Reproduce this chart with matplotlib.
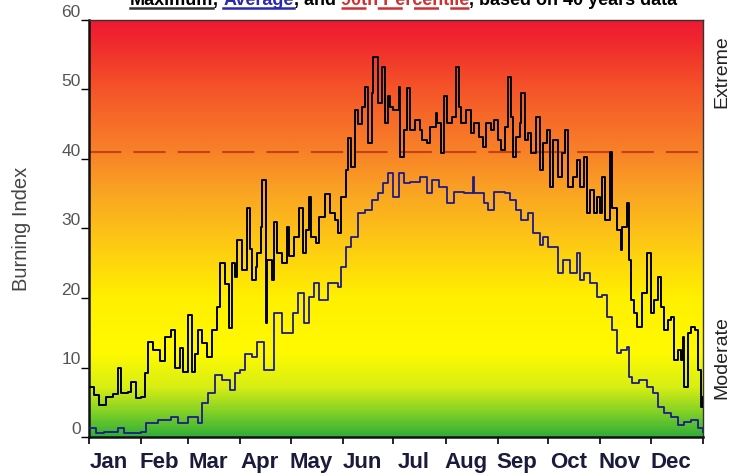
import numpy as np
import matplotlib
matplotlib.use("Agg")
import matplotlib.pyplot as plt
from matplotlib.colors import LinearSegmentedColormap
from matplotlib.lines import Line2D

plt.rcParams['font.family'] = ['Liberation Sans', 'DejaVu Sans']

# daily burning index (day of year -> value)
max_days = [0, 3, 6, 10, 14, 17, 19, 23, 25, 28, 31, 33, 35, 38, 42, 45, 49, 51, 54, 56,
            59, 61, 63, 65, 67, 70, 73, 76, 78, 81, 83, 85, 87, 88, 91, 94, 96, 97, 99, 100,
            102, 103, 105, 106, 109, 110, 112, 115, 118, 119, 122, 125, 127, 129, 131, 132, 135, 137, 140, 143,
            146, 148, 150, 153, 154, 156, 158, 160, 162, 164, 166, 168, 169, 172, 174, 176, 178, 179, 181, 184,
            185, 187, 189, 191, 194, 197, 198, 201, 203, 206, 207, 209, 211, 213, 216, 218, 220, 221, 224, 227,
            229, 232, 234, 236, 239, 241, 243, 245, 247, 249, 251, 252, 254, 256, 257, 259, 261, 263, 266, 268,
            270, 272, 274, 276, 279, 281, 283, 285, 288, 290, 292, 294, 296, 298, 300, 302, 304, 305, 307, 310,
            311, 314, 316, 317, 320, 321, 322, 324, 326, 329, 332, 334, 336, 338, 340, 342, 344, 346, 348, 350,
            352, 353, 354, 356, 358, 360, 362, 364, 365]
max_bi = [7.2, 6.0, 4.6, 5.8, 6.2, 9.9, 6.3, 6.5, 7.9, 5.6, 5.8, 9.2, 13.7, 12.5, 11.0, 14.4, 15.4, 10.0, 12.8, 9.4,
          17.6, 9.4, 12.0, 15.4, 13.5, 11.5, 15.4, 18.7, 25.0, 22.0, 15.7, 25.0, 23.0, 28.3, 24.0, 33.0, 27.0, 22.6, 24.5, 26.5,
          30.2, 37.0, 16.4, 25.5, 22.6, 31.0, 26.5, 25.0, 30.2, 26.0, 28.8, 33.0, 26.5, 29.8, 34.5, 28.8, 27.9, 31.7, 35.0, 32.2,
          31.2, 29.4, 34.5, 38.4, 43.0, 38.8, 47.0, 45.0, 47.5, 50.4, 42.3, 49.5, 54.7, 48.0, 53.2, 45.2, 49.0, 47.5, 47.0, 50.4,
          40.3, 44.2, 50.2, 44.2, 45.6, 44.2, 42.7, 42.3, 44.6, 46.6, 45.2, 40.9, 49.0, 45.2, 46.0, 53.2, 47.5, 45.2, 47.0, 43.7,
          45.2, 43.2, 41.7, 45.2, 44.2, 45.6, 42.7, 41.3, 44.6, 51.8, 46.0, 40.3, 43.2, 45.2, 49.5, 42.7, 43.7, 40.9, 46.0, 38.4,
          42.3, 44.2, 36.0, 42.7, 37.4, 40.9, 44.2, 36.0, 37.4, 39.9, 36.0, 40.3, 32.2, 35.5, 32.2, 34.5, 32.2, 37.4, 31.2, 41.0,
          33.0, 29.8, 26.9, 30.2, 33.7, 25.5, 19.7, 17.8, 15.8, 20.7, 26.5, 17.8, 19.7, 23.0, 18.7, 15.4, 16.8, 17.3, 11.1, 12.5,
          11.1, 14.4, 7.2, 15.0, 15.8, 15.4, 9.6, 4.3, 5.8]

avg_days = [0, 4, 9, 17, 21, 31, 34, 41, 49, 53, 59, 65, 67, 71, 75, 79, 84, 87, 90, 93,
            97, 100, 104, 110, 115, 121, 124, 128, 131, 134, 137, 142, 148, 150, 153, 156, 160, 164, 168, 172,
            175, 178, 181, 184, 187, 191, 197, 201, 204, 208, 213, 217, 223, 228, 229, 235, 237, 241, 247, 250,
            254, 257, 261, 264, 268, 270, 273, 279, 282, 286, 290, 292, 294, 298, 302, 305, 308, 311, 314, 316,
            320, 321, 323, 327, 332, 335, 338, 342, 346, 350, 354, 358, 362, 365]
avg_bi = [1.3, 0.6, 0.7, 1.3, 0.6, 0.7, 2.0, 2.4, 2.9, 2.0, 2.9, 2.0, 4.9, 6.3, 8.9, 8.2, 6.8, 9.2, 9.6, 12.0,
          11.5, 13.7, 9.6, 17.8, 15.0, 17.8, 20.7, 16.4, 20.1, 22.2, 19.7, 22.2, 21.6, 24.5, 27.3, 28.8, 32.2, 32.7, 34.1, 35.1,
          36.5, 38.0, 34.5, 38.0, 36.5, 36.7, 37.4, 35.1, 37.0, 36.0, 33.7, 35.3, 35.1, 37.4, 35.1, 33.7, 32.7, 35.3, 35.1, 34.1,
          32.7, 31.2, 32.2, 29.4, 27.6, 28.8, 27.3, 23.6, 25.5, 23.6, 26.5, 22.6, 23.6, 22.2, 20.1, 20.4, 17.3, 15.4, 12.1, 12.5,
          13.0, 8.6, 7.8, 8.2, 7.2, 6.3, 4.3, 3.5, 2.9, 1.7, 2.2, 2.4, 1.3, 0.7]

pct90 = 41
month_starts = [0, 31, 59, 90, 120, 151, 181, 212, 243, 273, 304, 334, 365]
month_names = ['Jan', 'Feb', 'Mar', 'Apr', 'May', 'Jun', 'Jul', 'Aug', 'Sep', 'Oct', 'Nov', 'Dec']

fig = plt.figure(figsize=(7.34, 4.74), dpi=100)
ax = fig.add_axes([89/734, 37/474, 614/734, 417/474])

# red -> orange -> yellow -> green background
stops = [(0.0, (50, 175, 55)), (3/60, (120, 205, 40)), (7/60, (215, 238, 20)),
         (12/60, (255, 250, 0)), (20/60, (255, 240, 0)), (28/60, (253, 200, 20)),
         (35/60, (250, 165, 35)), (41/60, (248, 130, 40)), (50/60, (245, 85, 40)),
         (57/60, (240, 40, 45)), (1.0, (238, 25, 50))]
cmap = LinearSegmentedColormap.from_list('bg', [(p, np.array(c)/255) for p, c in stops])
grad = np.linspace(0, 1, 400).reshape(-1, 1)
ax.imshow(grad, cmap=cmap, origin='lower', extent=[0, 365, 0, 60], aspect='auto', zorder=0)

ax.axhline(pct90, color='#c8401a', lw=1.5, ls=(0, (15.5, 5.8)), zorder=2)
ax.plot(avg_days, avg_bi, drawstyle='steps-post', color='#1c1c8a', lw=1.3, zorder=3)
ax.plot(max_days, max_bi, drawstyle='steps-post', color='black', lw=1.4, zorder=4)

ax.set_xlim(0, 365)
ax.set_ylim(0, 60)

ax.set_xticks(month_starts)
ax.set_xticklabels([])
ax.set_xticks([(a + b) / 2 - 3.5 for a, b in zip(month_starts[:-1], month_starts[1:])], minor=True)
ax.set_xticklabels(month_names, minor=True, fontsize=16, fontweight='bold', color='#1a1a3a')
ax.tick_params(axis='x', which='major', direction='out', length=5, width=1.2, color='black')
ax.tick_params(axis='x', which='minor', length=0, pad=11)

ax.set_yticks(range(0, 61, 10))
ax.tick_params(axis='y', direction='out', length=6, width=1, pad=0, labelsize=12.5, labelcolor='#555555')
for lab in ax.get_yticklabels():
    lab.set_va('bottom')

ax.set_ylabel('Burning Index', fontsize=14.5, color='#444444', labelpad=22)

for s in ['left', 'bottom']:
    ax.spines[s].set_linewidth(1.8)
    ax.spines[s].set_color('#111111')
for s in ['top', 'right']:
    ax.spines[s].set_linewidth(1.0)
    ax.spines[s].set_color('#333333')

ax.text(1.03, 52.5, 'Extreme', transform=ax.get_yaxis_transform(), rotation=90,
        ha='center', va='center', fontsize=14, color='#222222')
ax.text(1.03, 11.5, 'Moderate', transform=ax.get_yaxis_transform(), rotation=90,
        ha='center', va='center', fontsize=14, color='#222222')

# title sits half cut off at the top edge, laid out piece by piece
renderer = fig.canvas.get_renderer()
ty = 1 - 5/474
title_parts = [('Maximum', 'black'), (', ', 'black'), ('Average', '#2a2ab0'), (', and ', 'black'),
               ('90th Percentile', '#d03030'), (', based on 40 years data', 'black')]
px = 130
spans = []
for txt, col in title_parts:
    t = fig.text(px/734, ty, txt, color=col, fontsize=13, fontweight='bold', va='baseline', ha='left')
    bb = t.get_window_extent(renderer)
    spans.append((px, px + bb.width))
    px += bb.width

uy = 1 - 8/474
fig.add_artist(Line2D([spans[0][0]/734, spans[0][1]/734], [uy, uy], color='#333333', lw=1.8))
fig.add_artist(Line2D([spans[2][0]/734, spans[2][1]/734], [uy, uy], color='#2a2ab0', lw=1.8))
fig.add_artist(Line2D([spans[4][0]/734, spans[4][1]/734], [uy, uy], color='#d03030', lw=1.8,
                      ls=(0, (10, 4.5))))

fig.savefig('out.png', dpi=100)
